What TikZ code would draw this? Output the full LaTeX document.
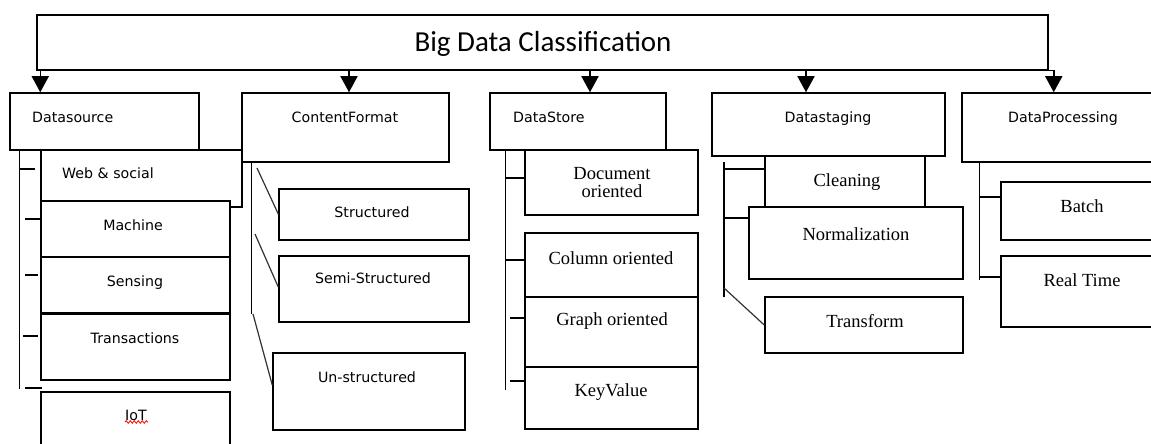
\documentclass[tikz,border=0pt]{standalone}
\usepackage{fontspec}
\setmainfont{Liberation Serif}
\newfontfamily\sansf{DejaVu Sans}
\newfontfamily\calf{Carlito}
\usetikzlibrary{arrows.meta,decorations.pathmorphing}
\tikzset{
  box/.style={draw, line width=1.5pt, fill=white, inner sep=0pt, rectangle},
  ln/.style={line width=1.5pt},
  thinln/.style={line width=1.2pt, black!80},
  arr/.style={line width=1.5pt, -{Triangle[width=17pt,length=16pt]}},
  st/.style={inner sep=0pt, anchor=base, font=\sansf\fontsize{14.2}{16}\selectfont},
  rt/.style={inner sep=0pt, anchor=base, font=\fontsize{18.5}{21}\selectfont},
}
\newcommand\bx[5]{\node[box, minimum width=#4pt-#2pt, minimum height=#5pt-#3pt] (#1) at ({(#2+#4)/2},{(#3+#5)/2}) {};}
\begin{document}
\begin{tikzpicture}[x=1pt,y=-1pt]
\useasboundingbox (0,0) rectangle (1151,444);
\clip (0,0) rectangle (1151,444);
\fill[white] (0,0) rectangle (1151,444);

% top
\bx{top}{37}{15}{1048}{70}
\node[inner sep=0pt, anchor=base, font=\calf\fontsize{29}{34}\selectfont] (topt) at (543,52) {Big Data Classification};
\draw[ln] (top.south east) -- ++(6,0);

% level 1 boxes
\bx{ds}{10}{93}{199}{150}
\bx{cf}{242}{93}{449}{162}
\bx{dst}{490}{93}{666}{150}
\bx{stg}{712}{93}{945}{156}
\bx{dp}{962}{93}{1170}{162}
\node[st, anchor=base west] (dst1) at (32,122) {Datasource};
\node[st] (cft) at (345,122) {ContentFormat};
\node[st, anchor=base west] (dstt) at (513,122) {DataStore};
\node[st] (stgt) at (828,122) {Datastaging};
\node[st] (dpt) at (1063,122) {DataProcessing};

% arrows
\coordinate (a1) at ([xshift=4pt]top.south west);
\coordinate (a2) at (349,70);
\coordinate (a3) at (590,70);
\coordinate (a4) at (806,70);
\coordinate (a5) at ([xshift=5pt]top.south east);
\draw[arr] (a1) -- (a1 |- ds.north);
\draw[arr] (a2) -- (a2 |- cf.north);
\draw[arr] (a3) -- (a3 |- dst.north);
\draw[arr] (a4) -- (a4 |- stg.north);
\draw[arr] (a5) -- (a5 |- dp.north);

% Datasource children
\bx{web}{41}{150}{242}{207}
\bx{mach}{41}{201}{230}{257}
\bx{sens}{41}{257}{230}{313}
\bx{trans}{41}{314}{230}{380}
\bx{iot}{41}{392}{230}{470}
\node[st, anchor=base west] (webt) at (62,178) {Web \& social};
\node[st] (macht) at (133,230) {Machine};
\node[st] (senst) at (135,286) {Sensing};
\node[st] (transt) at (135,343) {Transactions};
\node[st] (iott) at (136,420) {IoT};
\draw[red, line width=0.8pt, decorate, decoration={snake, amplitude=1.3pt, segment length=4pt}] (125,422) -- (148,422);
\coordinate (dsb) at ([xshift=10pt]ds.south west);
\draw[ln] (dsb) -- ++(0,238);
\draw[ln] (dsb |- 0,169) -- ++(16,0);
\draw[ln] (25,219) -- (mach.west |- 0,219);
\draw[ln] (25,275) -- (38,275);
\draw[ln] (23,336) -- (38,336);
\draw[ln] (25,388) -- (42,388);

% ContentFormat children
\bx{str}{279}{189}{469}{240}
\bx{semi}{279}{256}{469}{322}
\bx{uns}{273}{353}{465}{430}
\node[st] (strt) at (372,217) {Structured};
\node[st] (semit) at (373,283) {Semi-Structured};
\node[st] (unst) at (367,382) {Un-structured};
\coordinate (cfb) at ([xshift=10pt]cf.south west);
\draw[ln] (cfb) -- ++(0,151);
\draw[thinln] (257,168) -- (str.west |- 0,214);
\draw[thinln] (255,234) -- (semi.west |- 0,287);
\draw[thinln] (253,314) -- (uns.west |- 0,385);

% DataStore children
\bx{doc}{525}{150}{698}{215}
\bx{col}{525}{233}{698}{297}
\bx{gra}{525}{297}{698}{367}
\bx{kv}{525}{367}{698}{429}
\node[rt, align=center] (doct) at (612,197) {Document\\[-3pt]oriented};
\node[rt] (colt) at (611,264) {Column oriented};
\node[rt] (grat) at (612,325) {Graph oriented};
\node[rt] (kvt) at (611,396) {KeyValue};
\coordinate (dstb) at ([xshift=16pt]dst.south west);
\draw[ln] (dstb) -- ++(0,239);
\draw[ln] (dstb |- 0,178) -- (doc.west |- 0,178);
\draw[ln] (dstb |- 0,260) -- (col.west |- 0,260);
\draw[ln] (510,318) -- (gra.west |- 0,318);
\draw[ln] (510,381) -- (kv.west |- 0,381);

% Datastaging children
\bx{cln}{765}{156}{925}{207}
\bx{nrm}{749}{207}{963}{279}
\bx{trf}{765}{297}{963}{353}
\node[rt] (clnt) at (847,186) {Cleaning};
\node[rt] (nrmt) at (856,240) {Normalization};
\node[rt] (trft) at (865,327) {Transform};
\coordinate (stgb) at (724,162);
\draw[ln] (stgb) -- ++(0,135);
\draw[ln] (stgb |- 0,169) -- (cln.west |- 0,169);
\draw[ln] (stgb |- 0,218) -- (nrm.west |- 0,218);
\draw[thinln] (724,288) -- (trf.west |- 0,325);

% DataProcessing children
\bx{bat}{1001}{182}{1170}{240}
\bx{rtm}{1001}{256}{1170}{327}
\node[rt] (batt) at (1082,212) {Batch};
\node[rt] (rtmt) at (1082,286) {Real Time};
\coordinate (dpb) at ([xshift=18pt]dp.south west);
\draw[ln] (dpb) -- ++(0,117);
\draw[ln] (dpb |- 0,197) -- (bat.west |- 0,197);
\draw[ln] (dpb |- 0,277) -- (rtm.west |- 0,277);
\end{tikzpicture}
\end{document}
